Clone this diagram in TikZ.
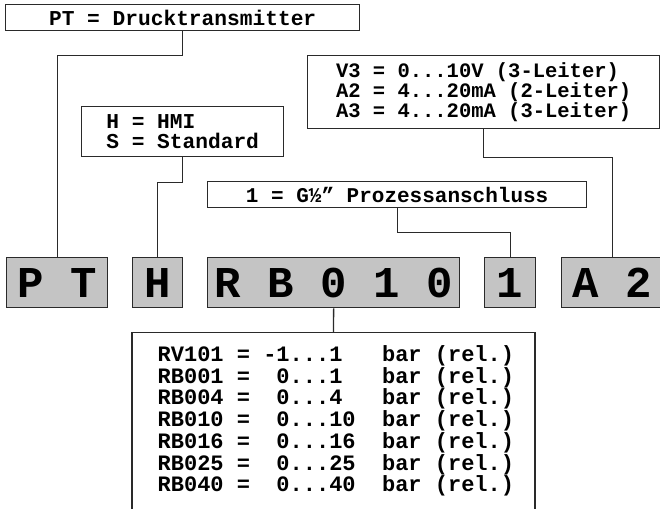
\documentclass[tikz,border=0pt]{standalone}
\usepackage{fontspec}
\setmainfont{Liberation Mono}
\definecolor{boxgray}{HTML}{C4C4C4}
\definecolor{linegray}{HTML}{2A2A2A}

\begin{document}
\begin{tikzpicture}[x=1pt, y=-1pt, line width=1.3pt,
  infobox/.style={draw=linegray, fill=white, inner sep=0pt, font=\bfseries\frenchspacing\fontsize{21.2}{20}\selectfont},
  codebox/.style={draw=linegray, fill=boxgray, inner sep=0pt, minimum height=50, anchor=north west, font=\bfseries\fontsize{44}{44}\selectfont}]
  \useasboundingbox (0,0) rectangle (660,508);
  \clip (0,0) rectangle (660,508);
  % 说明框 (上)
  \node[infobox, minimum width=354, minimum height=26, anchor=north west] (pt) at (5,4) {PT = Drucktransmitter};
  \node[infobox, minimum width=202, minimum height=50, anchor=north west, align=left] (hs) at (81,106) {H = HMI\\S = Standard};
  \node[infobox, minimum width=352, minimum height=73, anchor=north west, align=left,
    font=\bfseries\frenchspacing\fontsize{20.5}{18.5}\selectfont] (sig) at (307,55)
    {V3 = 0...10V (3-Leiter)\\A2 = 4...20mA (2-Leiter)\\A3 = 4...20mA (3-Leiter)};
  \node[infobox, minimum width=379, minimum height=26, anchor=north west,
    font=\bfseries\frenchspacing\fontsize{21}{21}\selectfont] (conn) at (207,181) {1 = G½” Prozessanschluss};
  % 型号代码框
  \node[codebox, minimum width=101] (ptcode) at (6,257) {P T};
  \node[codebox, minimum width=50] (hcode) at (132,257) {H};
  \node[codebox, minimum width=252] (rbcode) at (207,257) {R B 0 1 0};
  \node[codebox, minimum width=51] (onecode) at (484,257) {1};
  \node[codebox, minimum width=101] (a2code) at (561,257) {A 2};
  % 量程框 (下), 下边在图外
  \node[draw=linegray, fill=white, minimum width=403, minimum height=200, anchor=north, inner sep=0pt] (rbbox) at (333.5,332) {};
  \node[anchor=west, inner sep=0pt, align=left, font=\bfseries\frenchspacing\fontsize{22}{21.7}\selectfont] (rblist) at (157,421)
    {RV101 = -1...1~~~bar (rel.)\\
     RB001 =~~0...1~~~bar (rel.)\\
     RB004 =~~0...4~~~bar (rel.)\\
     RB010 =~~0...10~~bar (rel.)\\
     RB016 =~~0...16~~bar (rel.)\\
     RB025 =~~0...25~~bar (rel.)\\
     RB040 =~~0...40~~bar (rel.)};
  % 连接线
  \draw[linegray] (pt.south) -- ++(0,24) -| (ptcode.north);
  \draw[linegray] (hs.south) -- ++(0,25) -| (hcode.north);
  \draw[linegray] (sig.south) -- ++(0,28) -| (a2code.north);
  \draw[linegray] (conn.south) -- ++(0,24) -| (onecode.north);
  \draw[linegray] (rbcode.south) -- (rbbox.north);
\end{tikzpicture}
\end{document}
